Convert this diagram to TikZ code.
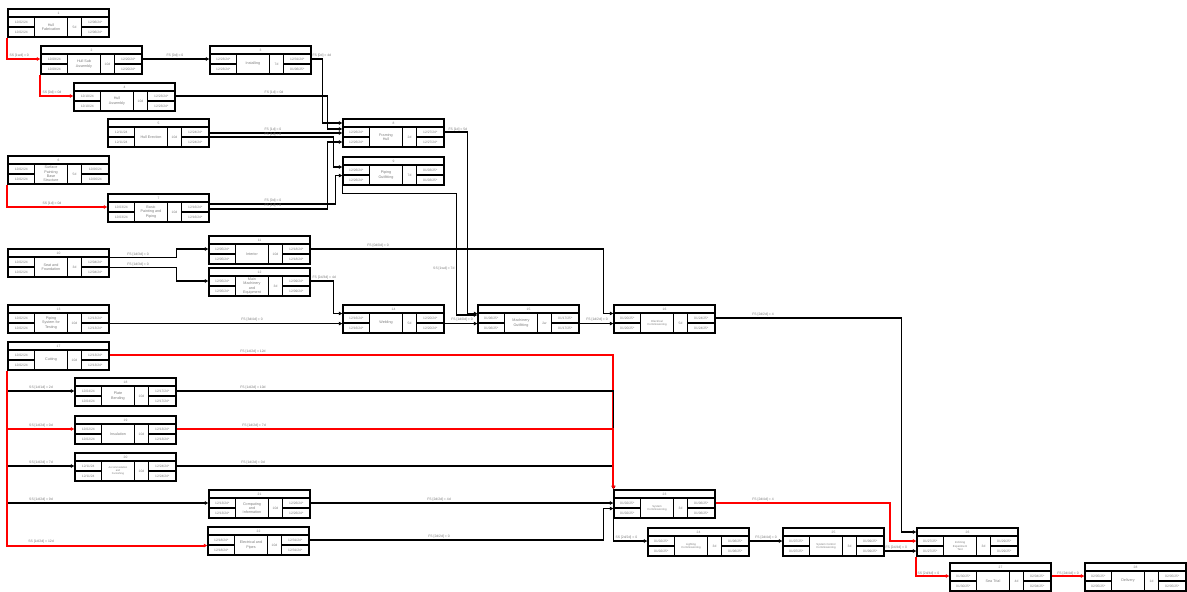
\documentclass[tikz,border=0pt]{standalone}
\usepackage{fontspec}
\setmainfont{Liberation Sans}
\usetikzlibrary{arrows.meta,calc}
\definecolor{critred}{RGB}{255,0,0}
\definecolor{txt}{RGB}{125,125,125}
\tikzset{
  cell/.style={draw=black, line width=1.1pt, inner sep=0pt, text=txt, font=\fontsize{3.3}{3.7}\selectfont},
  namecell/.style={font=\fontsize{3.7}{4.3}\selectfont},
  conn/.style={line width=1.8pt, -{Latex[length=3.5pt,width=4pt]}},
  critc/.style={line width=2pt, draw=critred, -{Latex[length=3.5pt,width=4pt]}},
  lbl/.style={text=txt, inner sep=0.3pt, font=\fontsize{3.4}{3.8}\selectfont}
}
\newcommand{\tasknode}[9]{%
 \begin{scope}[shift={#2}]
  \node[cell, minimum width=101pt, minimum height=8pt] (#1-id) at (50.5,4) {#3};
  \node[cell, minimum width=26.5pt, minimum height=10pt] (#1-s1) at (13.25,13) {#4};
  \node[cell, minimum width=26.5pt, minimum height=10pt] (#1-s2) at (13.25,23) {#5};
  \node[cell, namecell, minimum width=33pt, minimum height=20pt, align=center] (#1-nm) at (43,18) {#6};
  \node[cell, minimum width=14pt, minimum height=20pt] (#1-du) at (66.5,18) {#7};
  \node[cell, minimum width=27.5pt, minimum height=10pt] (#1-f1) at (87.25,13) {#8};
  \node[cell, minimum width=27.5pt, minimum height=10pt] (#1-f2) at (87.25,23) {#9};
  \draw[line width=1.6pt] (#1-id.north west) rectangle (#1-f2.south east);
 \end{scope}}
\begin{document}
\begin{tikzpicture}[x=1pt,y=-1pt]
\useasboundingbox[fill=white] (0,0) rectangle (1187,592);
% ---------- tasks ----------
\tasknode{A}{(8,9)}{1}{12/02/24}{12/02/24}{Hull\\Fabrication}{5d}{12/06/24*}{12/06/24*}
\tasknode{B}{(41,46)}{2}{12/09/24}{12/09/24}{Hull Sub\\Assembly}{10d}{12/20/24*}{12/20/24*}
\tasknode{C}{(210,46)}{3}{12/23/24*}{12/23/24*}{Installing}{7d}{12/31/24*}{01/06/25*}
\tasknode{D}{(74,83)}{4}{12/10/24}{12/10/24}{Hull\\Assembly}{10d}{12/23/24*}{12/23/24*}
\tasknode{E}{(108,119)}{5}{12/11/24}{12/11/24}{Hull Erection}{10d}{12/24/24*}{12/24/24*}
\tasknode{F}{(8,156)}{6}{12/02/24}{12/02/24}{Surface\\Painting\\Base\\Structure}{5d}{12/06/24}{12/06/24}
\tasknode{G}{(108,194)}{7}{12/03/24}{12/03/24}{Basic\\Painting and\\Piping}{10d}{12/16/24*}{12/16/24*}
\tasknode{H}{(343,119)}{8}{12/26/24*}{12/26/24*}{Framing\\Hull}{2d}{12/27/24*}{12/27/24*}
\tasknode{I}{(343,157)}{9}{12/26/24*}{12/26/24*}{Piping\\Outfitting}{7d}{01/03/25*}{01/03/25*}
\tasknode{J}{(8,249)}{10}{12/02/24}{12/02/24}{Seat and\\Foundation}{3d}{12/04/24*}{12/04/24*}
\tasknode{K}{(209,236)}{11}{12/05/24*}{12/05/24*}{Interior}{10d}{12/18/24*}{12/18/24*}
\tasknode{L}{(209,268)}{12}{12/05/24*}{12/05/24*}{Main\\Machinery\\and\\Equipment}{3d}{12/09/24*}{12/09/24*}
\tasknode{M}{(8,305)}{13}{12/02/24}{12/02/24}{Piping\\System for\\Testing}{10d}{12/13/24*}{12/13/24*}
\tasknode{N}{(343,305)}{14}{12/16/24*}{12/16/24*}{Welding}{5d}{12/20/24*}{12/20/24*}
\tasknode{O}{(478,305)}{15}{01/06/25*}{01/06/25*}{Machinery\\Outfitting}{2w}{01/17/25*}{01/17/25*}
\begin{scope}[namecell/.style={font=\fontsize{2.8}{3.2}\selectfont}]
\tasknode{P}{(614,305)}{16}{01/20/25*}{01/20/25*}{Electrical\\Commissioning}{5d}{01/24/25*}{01/24/25*}
\end{scope}
\tasknode{Q}{(8,342)}{17}{12/02/24}{12/02/24}{Cutting}{10d}{12/13/24*}{12/13/24*}
\tasknode{R}{(75,378)}{18}{12/04/24}{12/04/24}{Plate\\Bending}{10d}{12/17/24*}{12/17/24*}
\tasknode{S}{(75,416)}{19}{12/02/24}{12/02/24}{Insulation}{10d}{12/13/24*}{12/13/24*}
\begin{scope}[namecell/.style={font=\fontsize{2.6}{2.9}\selectfont}]
\tasknode{T}{(75,453)}{20}{12/11/24}{12/11/24}{Accommodation\\and\\Furnishing}{10d}{12/24/24*}{12/24/24*}
\end{scope}
\tasknode{U}{(209,490)}{21}{12/13/24*}{12/13/24*}{Computing\\and\\Information}{10d}{12/26/24*}{12/26/24*}
\tasknode{V}{(208,527)}{22}{12/18/24*}{12/18/24*}{Electrical and\\Pipes}{10d}{12/31/24*}{12/31/24*}
\begin{scope}[namecell/.style={font=\fontsize{2.8}{3.2}\selectfont}]
\tasknode{W}{(614,490)}{23}{01/02/25*}{01/02/25*}{System\\Commissioning}{3d}{01/06/25*}{01/06/25*}
\tasknode{X}{(648,528)}{24}{01/02/25*}{01/02/25*}{Lighting\\Commissioning}{3d}{01/06/25*}{01/06/25*}
\tasknode{Y}{(783,528)}{25}{01/07/25*}{01/07/25*}{System Control\\Commissioning}{3d}{01/09/25*}{01/09/25*}
\tasknode{Z}{(917,528)}{26}{01/27/25*}{01/27/25*}{Inclining\\Experiment\\Test}{3d}{01/29/25*}{01/29/25*}
\end{scope}
\tasknode{AA}{(950,563)}{27}{01/30/25*}{01/30/25*}{Sea Trial}{4d}{02/04/25*}{02/04/25*}
\tasknode{AB}{(1085,563)}{28}{02/05/25*}{02/05/25*}{Delivery}{1d}{02/05/25*}{02/05/25*}
% ---------- connectors (black) ----------
\draw[conn] (B-f1.east) -- (C-s1.west);
\draw[conn] (C-f1.east) -- ++(11,0) |- (H-id.west);
\draw[conn] (D-f1.east) -- ++(152,0) |- ([yshift=3pt]H-s1.west);
\draw[conn] ([yshift=-1pt]E-f1.east) -- ([yshift=-1pt]H-s1.west);
\draw[conn] ([yshift=-5pt]E-f1.east) -- ++(124,0) |- ([yshift=3pt]I-s1.west);
\draw[conn] ([yshift=3pt]G-f1.east) -- ++(126,0) |- (I-s1.south west);
\draw[conn] ([yshift=-2pt]G-f1.east) -- ++(118,0) |- (H-s2.west);
\draw[conn] (H-f1.east) -- ++(23,0) |- ([yshift=-1pt]O-s1.north west);
\draw[conn] (I-s2.south west) -- ++(0,8) -- ++(114,0) |- ([yshift=3pt]O-s1.west);
\draw[conn] ([yshift=-1pt]J-f1.north east) -- ++(67,0) |- (K-s1.west);
\draw[conn] (J-f1.south east) -- ++(67,0) |- (L-s1.west);
\draw[conn] (K-f1.east) -- ++(293,0) |- ([yshift=-1pt]P-s1.north west);
\draw[conn] (L-f1.east) -- ++(23,0) |- ([yshift=-1pt]N-s1.north west);
\draw[conn] (M-f1.south east) -- (N-s1.south west);
\draw[conn] (N-f1.south east) -- (O-s1.south west);
\draw[conn] (O-f1.south east) -- (P-s1.south west);
\draw[conn] (P-f1.east) -- ++(186,0) |- (Z-id.west);
\draw[conn] (Q-s2.south west) |- (R-s1.west);
\draw[conn] (Q-s2.south west) |- (T-s1.west);
\draw[conn] (Q-s2.south west) |- (U-s1.west);
\draw[conn] (U-f1.east) -- (W-s1.west);
\draw[conn] (V-f1.east) -- ++(294,0) |- (W-s1.south west);
\draw[conn] (W-s2.south west) |- (X-s1.west);
\draw[conn] (X-f1.east) -- (Y-s1.west);
\draw[conn] (Y-f2.east) -- (Z-s2.west);
% ---------- connectors into W (order matters) ----------
\draw[critc] (Q-f1.east) -| (W-id.north west);
\draw[conn] (R-f1.east) -| (W-id.north west);
\draw[conn] (T-f1.east) -| (W-id.north west);
\draw[critc] (S-f1.east) -| (W-id.north west);
% ---------- critical connectors ----------
\draw[critc] (A-s2.south west) |- (B-s1.west);
\draw[critc] (B-s2.south west) |- (D-s1.west);
\draw[critc] (F-s2.south west) |- (G-s1.west);
\draw[critc] (Q-s2.south west) |- (S-s1.west);
\draw[critc] (Q-s2.south west) |- (V-s1.south west);
\draw[critc] (W-f1.east) -- ++(174,0) |- (Z-s1.west);
\draw[critc] (Z-s2.south west) |- (AA-s1.west);
\draw[critc] (AA-f1.east) -- (AB-s1.west);
% ---------- labels ----------
\node[lbl, anchor=south west] (l1) at (9,58) {SS [1wd] = 0};
\node[lbl, anchor=south] (l2) at (175,58) {FS [0d] = 0};
\node[lbl, anchor=south west] (l3) at (42,95) {SS [0d] = 0d};
\node[lbl, anchor=south west] (l4) at (312,58) {FS [0d] = 4d};
\node[lbl, anchor=south] (l5) at (274,95) {FS [1d] = 0d};
\node[lbl, anchor=south] (l6) at (273,132) {FS [1d] = 0};
\node[lbl, anchor=south] (l7) at (273,136.5) {FS [1d] = 0};
\node[lbl, anchor=south west] (l8) at (42,206) {SS [1d] = 0d};
\node[lbl, anchor=south] (l9) at (273,203) {FS [0d] = 0};
\node[lbl, anchor=south] (l10) at (273,208) {FS [1d] = 0};
\node[lbl, anchor=south west] (l11) at (448,131.5) {FS [1d] = 5d};
\node[lbl, anchor=east] (l12) at (455,269) {SS [1wd] = 7d};
\node[lbl, anchor=south] (l13) at (138,257) {FS [1d/3d] = 0};
\node[lbl, anchor=south] (l14) at (138,266.5) {FS [1d/3d] = 0};
\node[lbl, anchor=south] (l15) at (378,248) {FS [0d/0d] = 0};
\node[lbl, anchor=south west] (l16) at (312,280) {FS [2d/3d] = 4d};
\node[lbl, anchor=south] (l17) at (252,322) {FS [3d/4d] = 0};
\node[lbl, anchor=south] (l18) at (462,322) {FS [1d/0d] = 0};
\node[lbl, anchor=south] (l19) at (597,322) {FS [1d/2d] = 0};
\node[lbl, anchor=south] (l20) at (763,317) {FS [2d/2d] = 4};
\node[lbl, anchor=south] (l21) at (253,354) {FS [1d/2d] = 12d};
\node[lbl, anchor=south] (l22) at (41,390) {SS [1d/1d] = 2d};
\node[lbl, anchor=south] (l23) at (253,390) {FS [1d/2d] = 10d};
\node[lbl, anchor=south] (l24) at (41,428) {SS [1d/2d] = 0d};
\node[lbl, anchor=south] (l25) at (254,428) {FS [1d/2d] = 7d};
\node[lbl, anchor=south] (l26) at (41,465) {SS [1d/2d] = 7d};
\node[lbl, anchor=south] (l27) at (253,465) {FS [1d/2d] = 0d};
\node[lbl, anchor=south] (l28) at (41,502) {SS [1d/2d] = 9d};
\node[lbl, anchor=south] (l29) at (439,502) {FS [2d/2d] = 4d};
\node[lbl, anchor=south] (l30) at (41,544) {SS [1d/2d] = 12d};
\node[lbl, anchor=south] (l31) at (439,539) {FS [2d/2d] = 0};
\node[lbl, anchor=south west] (l32) at (615,540) {SS [2d/2d] = 0};
\node[lbl, anchor=south] (l33) at (766,540) {FS [2d/4d] = 0};
\node[lbl, anchor=south west] (l34) at (885,550) {FS [2d/4d] = 0};
\node[lbl, anchor=south] (l35) at (763,502) {FS [2d/4d] = 4};
\node[lbl, anchor=south west] (l36) at (917,575.5) {SS [2d/4d] = 0};
\node[lbl, anchor=south] (l37) at (1068,575.5) {FS [2d/4d] = 0};
\end{tikzpicture}
\end{document}
